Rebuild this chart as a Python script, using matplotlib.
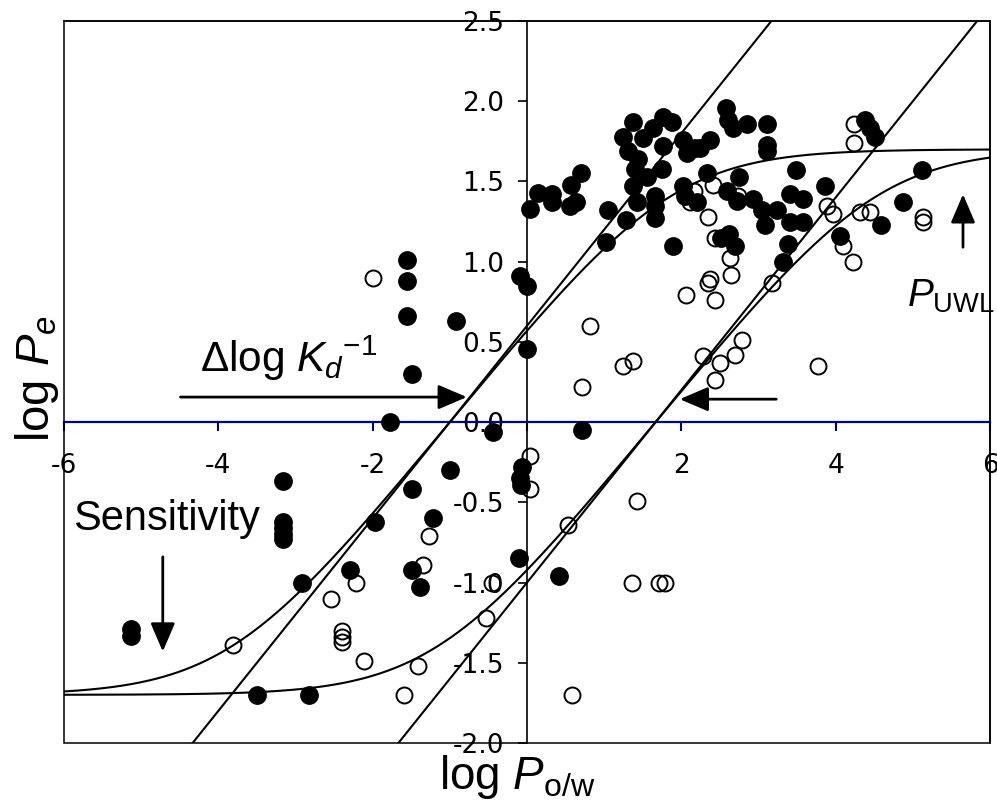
import numpy as np
import matplotlib
matplotlib.use("Agg")
import matplotlib.pyplot as plt
from matplotlib.patches import Rectangle
from matplotlib.ticker import FuncFormatter

plt.rcParams['axes.unicode_minus'] = False
plt.rcParams['mathtext.fontset'] = 'custom'
plt.rcParams['mathtext.rm'] = 'Liberation Sans'
plt.rcParams['mathtext.it'] = 'Liberation Sans:italic'
plt.rcParams['mathtext.bf'] = 'Liberation Sans:bold'

# filled symbols: log Po/w, log Pe
filled_x = [-5.13, -5.13, -3.16, -3.16, -3.16, -3.16, -3.16, -2.91, -3.50, -2.82,
            -2.29, -1.97, -1.77, -1.49, -1.49, -1.39, -1.22, -1.00, -0.44, 0.71,
            -0.07, -0.09, -0.08, -0.10, 0.41, -1.55, -1.55, -1.55, -0.92, -1.49,
            -0.09, 0.00, 0.00,
            0.04, 0.14, 0.32, 0.32, 0.57, 0.70, 0.56, 0.64, 1.05, 1.02, 1.28,
            1.38, 1.24, 1.31, 1.44, 1.40, 1.38, 1.42, 1.50, 1.63, 1.76, 1.88,
            1.76, 1.75, 1.55, 1.66, 1.66, 1.66, 1.89, 2.02, 2.07, 2.18, 2.02,
            2.05, 2.20, 2.24, 2.37, 2.33, 2.58, 2.61, 2.67, 2.85, 3.11, 3.11,
            3.11, 2.75, 3.48, 3.86, 2.59, 2.72, 2.93, 3.04, 3.08, 3.24, 3.41,
            3.58, 3.41, 3.58, 2.52, 2.62, 2.69, 3.38, 3.32, 4.05, 4.38, 4.44,
            4.51, 4.59, 4.87, 5.12]
filled_y = [-1.29, -1.33, -0.37, -0.62, -0.66, -0.70, -0.73, -1.00, -1.70, -1.70,
            -0.92, -0.62, 0.00, -0.42, -0.92, -1.03, -0.60, -0.30, -0.06, -0.05,
            -0.28, -0.35, -0.39, -0.85, -0.96, 1.01, 0.88, 0.66, 0.63, 0.30,
            0.91, 0.85, 0.455,
            1.33, 1.43, 1.42, 1.37, 1.48, 1.55, 1.35, 1.37, 1.32, 1.12, 1.26,
            1.87, 1.78, 1.69, 1.64, 1.58, 1.47, 1.37, 1.77, 1.83, 1.90, 1.87,
            1.72, 1.58, 1.53, 1.41, 1.35, 1.27, 1.10, 1.76, 1.68, 1.71, 1.47,
            1.41, 1.37, 1.71, 1.76, 1.55, 1.96, 1.88, 1.83, 1.86, 1.86, 1.73,
            1.69, 1.53, 1.57, 1.47, 1.44, 1.38, 1.39, 1.32, 1.23, 1.32, 1.42,
            1.39, 1.25, 1.25, 1.15, 1.17, 1.10, 1.11, 1.00, 1.16, 1.88, 1.83,
            1.78, 1.23, 1.37, 1.57]

# open symbols
open_x = [-3.81, -2.54, -2.21, -2.40, -2.40, -2.40, -2.11, -1.59, -1.41, -0.53,
          -1.27, -1.35, 0.04, 0.04, -0.45, -1.99,
          1.42, 0.53, 1.36, 1.71, 1.79, 0.58,
          0.82, 0.71, 1.25, 1.37, 2.28, 2.50, 2.44, 2.69, 2.79, 3.77,
          2.06, 2.44, 2.37, 2.35, 2.63, 2.65, 2.44, 3.17,
          2.41, 2.16, 2.11, 2.35, 2.74,
          3.89, 3.96, 4.09, 4.22, 4.32, 4.45, 5.13, 5.13, 4.24, 4.24]
open_y = [-1.39, -1.10, -1.00, -1.30, -1.34, -1.37, -1.49, -1.70, -1.52, -1.22,
          -0.71, -0.89, -0.21, -0.42, -1.00, 0.90,
          -0.49, -0.64, -1.00, -1.00, -1.00, -1.70,
          0.60, 0.22, 0.35, 0.38, 0.41, 0.37, 0.26, 0.42, 0.51, 0.35,
          0.79, 0.76, 0.89, 0.87, 1.02, 0.92, 1.15, 0.87,
          1.48, 1.44, 1.37, 1.28, 1.41,
          1.35, 1.30, 1.10, 1.00, 1.31, 1.31, 1.28, 1.25, 1.86, 1.74]

# model: membrane line of slope 0.6, UWL ceiling and sensitivity floor
slope = 0.6
intercepts = [0.6, -1.0]
log_p_uwl = 1.7
log_p_floor = -1.7


def log_pe(x, b):
    p_m = 10 ** (slope * x + b)
    return np.log10(10 ** log_p_floor + 1 / (1 / p_m + 1 / 10 ** log_p_uwl))


fig = plt.figure(figsize=(9.97, 8.08), dpi=100)
ax = fig.add_axes([64 / 997, 1 - 743 / 808, 926 / 997, 722 / 808])
ax.set_xlim(-6, 6)
ax.set_ylim(-2, 2.5)

xs = np.linspace(-6, 6, 400)
for b in intercepts:
    ax.plot(xs, slope * xs + b, color='black', lw=1.5, zorder=5)
    ax.plot(xs, log_pe(xs, b), color='black', lw=1.5, zorder=5)

ax.plot(open_x, open_y, 'o', ms=11.5, mfc='none', mec='black', mew=1.4, zorder=3)
ax.plot(filled_x, filled_y, 'o', ms=12.5, mfc='black', mec='black', zorder=4)

# axes crossing at the origin, with a box around the plot area
ax.spines['left'].set_position(('data', 0))
ax.spines['bottom'].set_position(('data', 0))
ax.spines['left'].set_linewidth(1.2)
ax.spines['bottom'].set_color('#000080')
ax.spines['bottom'].set_linewidth(1.6)
for side in ['top', 'right']:
    ax.spines[side].set_linewidth(1.1)
ax.add_patch(Rectangle((0, 0), 1, 1, transform=ax.transAxes, fill=False,
                       lw=1.1, ec='black', clip_on=False, zorder=2.5))

ax.set_xticks([-6, -4, -2, 0, 2, 4, 6])
ax.set_yticks(np.arange(-2, 2.51, 0.5))
ax.xaxis.set_major_formatter(FuncFormatter(lambda v, p: '' if v == 0 else f'{v:.0f}'))
ax.yaxis.set_major_formatter(FuncFormatter(lambda v, p: f'{v:.1f}'))
ax.tick_params(axis='x', direction='out', length=6.5, width=1.5, color='#000080',
               labelcolor='black', pad=16, labelsize=19)
ax.tick_params(axis='y', direction='out', length=6.5, width=1.2, color='black',
               pad=10, labelsize=19)

ax.set_xlabel(r'log $\mathit{P}_{\mathrm{o/w}}$', fontsize=33, family='Liberation Sans')
ax.set_ylabel(r'log $\mathit{P}_{\mathit{e}}$', fontsize=34, family='Liberation Sans')
ax.xaxis.set_label_coords(0.49, -0.014)
ax.yaxis.set_label_coords(-0.003, 0.505)

arrow = dict(arrowstyle='-|>,head_length=0.7,head_width=0.3', color='black', lw=2,
             mutation_scale=25, shrinkA=0, shrinkB=0)
ax.annotate('', xy=(-0.78, 0.156), xytext=(-4.49, 0.156), arrowprops=arrow, zorder=6)
ax.annotate('', xy=(1.98, 0.143), xytext=(3.23, 0.143), arrowprops=arrow, zorder=6)
ax.annotate('', xy=(-4.72, -1.43), xytext=(-4.72, -0.84), arrowprops=arrow, zorder=6)
ax.annotate('', xy=(5.65, 1.42), xytext=(5.65, 1.09), arrowprops=arrow, zorder=6)

ax.text(-4.24, 0.31, r'Δlog $\mathit{K}_{\mathit{d}}{}^{\mathrm{-1}}$', fontsize=30.5,
        family='Liberation Sans')
ax.text(-5.88, -0.67, 'Sensitivity', fontsize=30, family='Liberation Sans')
ax.text(4.92, 0.72, r'$\mathit{P}_{\mathrm{UWL}}$', fontsize=28, family='Liberation Sans')

fig.savefig('out.png', dpi=100)
